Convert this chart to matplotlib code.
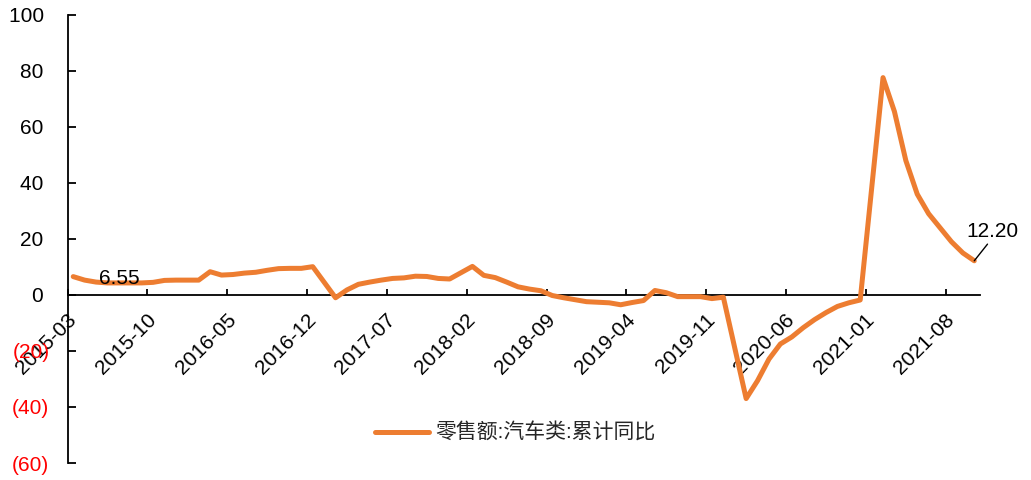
import numpy as np
import pandas as pd
import matplotlib
matplotlib.use('Agg')
import matplotlib.pyplot as plt
from matplotlib.font_manager import FontProperties

nan = np.nan

# 零售额:汽车类:累计同比 (%), monthly, January has no value (Jan-Feb combined)
months = [p.strftime('%Y-%m') for p in pd.period_range('2015-03', '2021-10', freq='M')]
v2015 = [6.55, 5.3, 4.6, 4.3, 4.3, 4.3, 4.3, 4.5, 5.2, 5.3]
v2016 = [nan, 5.3, 8.3, 7.1, 7.3, 7.8, 8.1, 8.8, 9.4, 9.5, 9.5, 10.1]
v2017 = [nan, -1.0, 1.8, 3.8, 4.6, 5.3, 5.9, 6.1, 6.7, 6.6, 5.9, 5.7]
v2018 = [nan, 10.2, 7.0, 6.2, 4.6, 2.9, 2.1, 1.5, -0.2, -1.0, -1.7, -2.4]
v2019 = [nan, -2.8, -3.5, -2.7, -2.0, 1.6, 0.8, -0.6, -0.6, -0.6, -1.3, -0.8]
v2020 = [nan, -37.0, -30.6, -22.9, -17.5, -15.0, -11.7, -8.8, -6.3, -4.1, -2.8, -1.8]
v2021 = [nan, 77.6, 65.5, 48.0, 36.0, 29.0, 24.0, 19.0, 15.0, 12.2]
values = np.array(v2015 + v2016 + v2017 + v2018 + v2019 + v2020 + v2021, dtype=float)

yticks = list(range(-60, 101, 20))
label_step = 7
series_name = '零售额:汽车类:累计同比'

ORANGE = '#ED7D31'
FS = 15
latin = 'Liberation Sans'
mixed = ['Liberation Sans', 'Noto Sans CJK SC']

fig = plt.figure(figsize=(10.31, 4.8), dpi=100)
ax = fig.add_axes([0.0655, 0.0354, 0.885, 0.9336])

x = np.arange(len(months))
ok = ~np.isnan(values)
ax.plot(x[ok], values[ok], color=ORANGE, lw=3.6, solid_joinstyle='round',
        solid_capstyle='round', label=series_name, zorder=3)

ax.set_xlim(-0.5, len(months) - 0.5)
ax.set_ylim(-60, 100)

for s in ['top', 'right']:
    ax.spines[s].set_visible(False)
ax.spines['bottom'].set_position(('data', 0))
for s in ['left', 'bottom']:
    ax.spines[s].set_linewidth(1.3)
    ax.spines[s].set_color('black')

# y axis
ax.set_yticks(yticks)
ax.set_yticklabels([f'({abs(v)})' if v < 0 else f'{v} ' for v in yticks],
                   fontfamily=latin, fontsize=FS)
for t, v in zip(ax.get_yticklabels(), yticks):
    t.set_color('red' if v < 0 else 'black')
ax.tick_params(axis='y', direction='in', length=6, width=1.3, pad=13)

# x axis: labels at category centres, tick marks between categories
pos = list(range(0, len(months), label_step))
ax.set_xticks(pos)
ax.set_xticklabels([months[i] for i in pos], fontfamily=latin, fontsize=FS,
                   rotation=45, ha='right', va='center', rotation_mode='anchor')
ax.tick_params(axis='x', which='major', length=0, pad=16)
ax.set_xticks(np.arange(-0.5, len(months), label_step), minor=True)
ax.tick_params(axis='x', which='minor', direction='in', length=4, width=1.3)

# value labels
ax.annotate(f'{values[0]:.2f}', xy=(x[0], values[0]), xytext=(33, -1),
            textcoords='offset points', ha='center', va='center',
            fontfamily=latin, fontsize=FS, color='black', zorder=4)
ax.annotate(f'{values[-1]:.2f}', xy=(x[-1], values[-1]), xytext=(13, 14),
            textcoords='offset points', ha='center', va='bottom',
            fontfamily=latin, fontsize=FS, color='black', annotation_clip=False,
            arrowprops=dict(arrowstyle='-', color='black', lw=1.0,
                            shrinkA=0, shrinkB=0, relpos=(0.45, 0)))

ax.legend(loc='center', bbox_to_anchor=(0.5, 0.098), bbox_transform=fig.transFigure,
          frameon=False, handlelength=2.6, handletextpad=0.3,
          prop=FontProperties(family=mixed, size=FS), labelcolor='#262626')

fig.savefig('out.png', dpi=100)
